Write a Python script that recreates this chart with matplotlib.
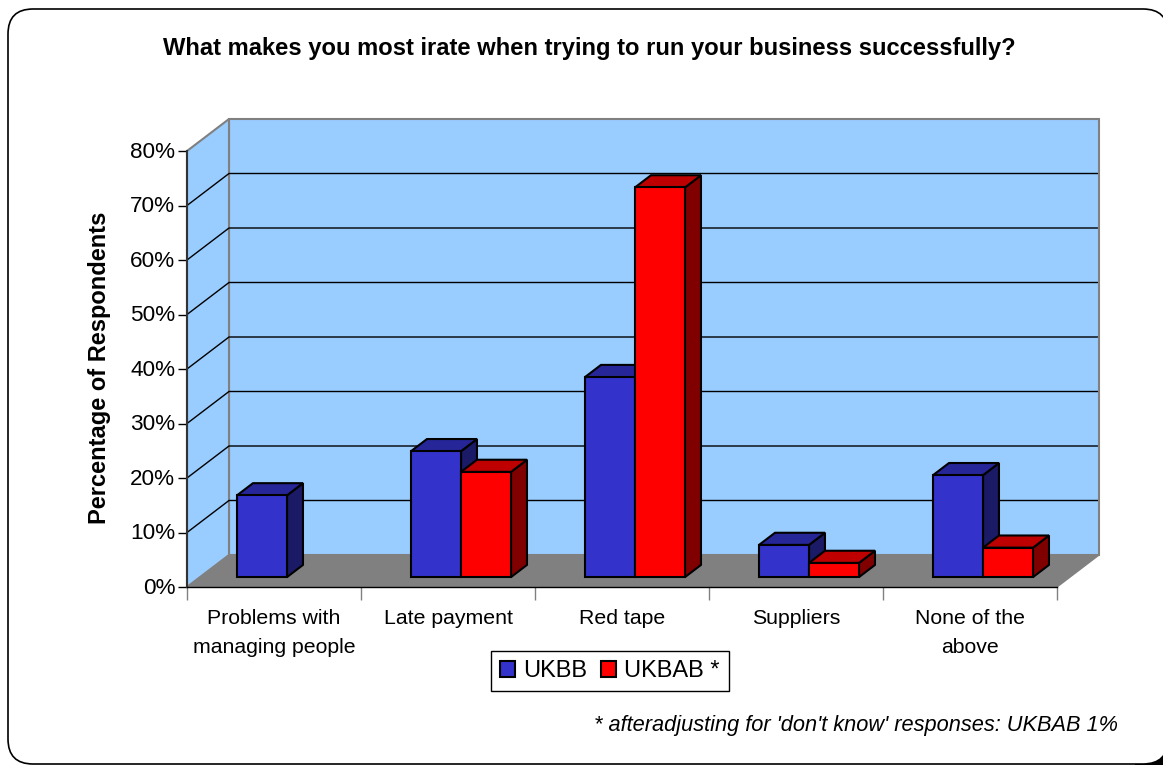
import matplotlib
matplotlib.use('Agg')
import matplotlib.pyplot as plt
from matplotlib.patches import FancyBboxPatch, Polygon, Rectangle
from matplotlib.transforms import ScaledTranslation

categories = ['Problems with\nmanaging people', 'Late payment', 'Red tape', 'Suppliers', 'None of the\nabove']
ukbb = [15.0, 23.1, 36.7, 5.9, 18.7]
ukbab = [0, 19.3, 71.5, 2.6, 5.4]
yticks = [0, 10, 20, 30, 40, 50, 60, 70, 80]
ytickLabels = ['0%', '10%', '20%', '30%', '40%', '50%', '60%', '70%', '80%']

figW = 1163
figH = 765
left, right = 187, 1057
bottom, top = 587, 151

# one unit of depth in data coordinates
depthX = 42 / ((right - left) / 5)
depthY = 32 / ((bottom - top) / 80)
barWidth = 50 / ((right - left) / 5)
barDepthStart = 0.31
barDepthEnd = 0.69

blues = ('#3333CC', '#262699', '#1A1A66')
reds = ('#FF0000', '#BF0000', '#800000')

plt.rcParams['font.family'] = ['Liberation Sans', 'DejaVu Sans']


def proj(x, y, d):
    return (x + d * depthX, y + d * depthY)


def drawBar(ax, x0, value, colors, z):
    x1 = x0 + barWidth
    d0, d1 = barDepthStart, barDepthEnd
    front = [proj(x0, 0, d0), proj(x1, 0, d0), proj(x1, value, d0), proj(x0, value, d0)]
    topFace = [proj(x0, value, d0), proj(x1, value, d0), proj(x1, value, d1), proj(x0, value, d1)]
    side = [proj(x1, 0, d0), proj(x1, 0, d1), proj(x1, value, d1), proj(x1, value, d0)]
    for pts, c in ((side, colors[2]), (topFace, colors[1]), (front, colors[0])):
        ax.add_patch(Polygon(pts, closed=True, facecolor=c, edgecolor='black', linewidth=1.5,
                             joinstyle='miter', clip_on=False, zorder=z))


fig = plt.figure(figsize=(figW / 100, figH / 100), dpi=100, facecolor='white')

# rounded chart outline, running off the right edge, black behind the lower right corner
bg = fig.add_axes([0, 0, 1, 1])
bg.set_xlim(0, figW)
bg.set_ylim(figH, 0)
bg.axis('off')
bg.add_patch(Rectangle((1135, 735), 30, 32, facecolor='black', edgecolor='none', zorder=0))
bg.add_patch(FancyBboxPatch((8, 9), 1160, 755, boxstyle='round,pad=0,rounding_size=25',
                            facecolor='white', edgecolor='black', linewidth=1.2, clip_on=True, zorder=1))

ax = fig.add_axes([left / figW, 1 - bottom / figH, (right - left) / figW, (bottom - top) / figH])
ax.patch.set_alpha(0)
ax.set_xlim(0, len(categories))
ax.set_ylim(0, 80)
for s in ax.spines.values():
    s.set_visible(False)

n = len(categories)
# walls and floor
ax.add_patch(Polygon([proj(0, 0, 1), proj(n, 0, 1), proj(n, 80, 1), proj(0, 80, 1)], closed=True,
                     facecolor='#99CCFF', edgecolor='#808080', linewidth=1.5, clip_on=False, zorder=1))
ax.add_patch(Polygon([proj(0, 0, 0), proj(0, 0, 1), proj(0, 80, 1), proj(0, 80, 0)], closed=True,
                     facecolor='#99CCFF', edgecolor='#808080', linewidth=1.5, clip_on=False, zorder=1))
ax.add_patch(Polygon([proj(0, 0, 0), proj(n, 0, 0), proj(n, 0, 1), proj(0, 0, 1)], closed=True,
                     facecolor='#808080', edgecolor='none', clip_on=False, zorder=2))

# gridlines run across the side wall and the back wall
for v in yticks[1:-1]:
    a, b, c = proj(0, v, 0), proj(0, v, 1), proj(n - 0.01, v, 1)
    ax.plot([a[0], b[0], c[0]], [a[1], b[1], c[1]], color='black', lw=1, clip_on=False, zorder=3)

ax.plot([0, 0], [0, 80], color='#333333', lw=1.5, clip_on=False, zorder=4)
ax.plot([0, n], [0, 0], color='black', lw=1, clip_on=False, zorder=4)
a, b = proj(n, 0, 0), proj(n, 0, 1)
ax.plot([a[0], b[0]], [a[1], b[1]], color='#808080', lw=1, clip_on=False, zorder=2)

# bars, blue then red in each category
for i in range(n):
    x0 = i + 0.5 - barWidth
    if ukbb[i] > 0:
        drawBar(ax, x0, ukbb[i], blues, 5 + 2 * i)
    if ukbab[i] > 0:
        drawBar(ax, x0 + barWidth, ukbab[i], reds, 6 + 2 * i)

ax.set_yticks(yticks)
ax.set_yticklabels(ytickLabels, fontsize=16.2)
ax.set_xticks(range(n + 1))
ax.set_xticklabels([])
ax.set_xticks([i + 0.5 for i in range(n)], minor=True)
ax.set_xticklabels(categories, minor=True, fontsize=15.3, linespacing=1.68)
ax.tick_params(axis='x', which='major', length=9, width=1, color='#808080')
ax.tick_params(axis='x', which='minor', length=0, pad=15.5)
ax.tick_params(axis='y', length=6.5, width=1, color='black', pad=2)
ax.set_ylabel('Percentage of Respondents', fontsize=17, fontweight='bold')
ax.yaxis.set_label_coords((111 - left) / (right - left), 0.503)

# value labels sit a little above their ticks
raise_labels = ScaledTranslation(0, 1.5 / 100, fig.dpi_scale_trans)
for label in ax.get_yticklabels():
    label.set_transform(label.get_transform() + raise_labels)

fig.text(589 / figW, 1 - 48.5 / figH, 'What makes you most irate when trying to run your business successfully?',
         ha='center', va='center', fontsize=17.1, fontweight='bold')
fig.text(1118 / figW, 1 - 725.5 / figH, "* afteradjusting for 'don't know' responses: UKBAB 1%",
         ha='right', va='center', fontsize=15.65, style='italic')

# legend box
handles = [Rectangle((0, 0), 1, 1, facecolor=blues[0], edgecolor='black', lw=1.5),
           Rectangle((0, 0), 1, 1, facecolor=reds[0], edgecolor='black', lw=1.5)]
leg = fig.legend(handles, ['UKBB', 'UKBAB *'], ncol=2, loc='center', bbox_to_anchor=(610 / figW, 1 - 671 / figH),
                 fontsize=17, frameon=True, fancybox=False, edgecolor='black', framealpha=1,
                 handlelength=0.64, handleheight=0.64, handletextpad=0.33, columnspacing=0.6,
                 borderpad=0.4, borderaxespad=0)
leg.get_frame().set_linewidth(1)

fig.savefig('out.png', dpi=100, facecolor=fig.get_facecolor())
